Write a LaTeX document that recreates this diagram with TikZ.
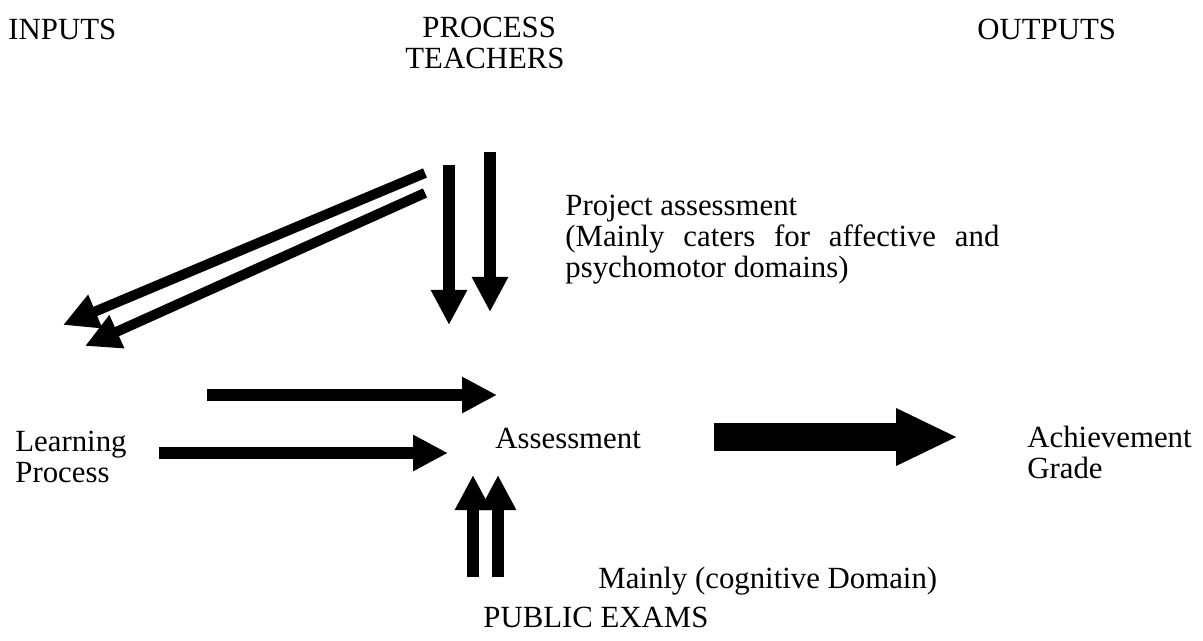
\documentclass[tikz,border=0pt]{standalone}
\usepackage{fontspec}
\setmainfont{Liberation Serif}
\usetikzlibrary{arrows.meta}
\begin{document}
\begin{tikzpicture}[x=0.5pt,y=-0.5pt,
  txt/.style={anchor=base west,inner sep=0pt,font=\fontsize{15.4}{15.5}\selectfont},
  thinarrow/.style={line width=6pt,-{Triangle[length=17.5pt,width=17pt]}},
  diagarrow/.style={line width=5pt,-{Triangle[length=17.5pt,width=17pt]}},
  bigarrow/.style={line width=14pt,-{Triangle[length=31pt,width=26.5pt]}}]
\useasboundingbox (0,0) rectangle (1203,641);
% texts
\node[txt] (inputs) at (8,40) {INPUTS};
\node[txt] (process) at (422,38) {PROCESS};
\node[txt] (teachers) at (405,69) {TEACHERS};
\node[txt] (outputs) at (977,40) {OUTPUTS};
\node[txt] (proj1) at (565,216) {Project assessment};
\node[txt] (proj2) at (565,247) {\makebox[217pt][s]{(Mainly caters for affective and}};
\node[txt] (proj3) at (565,278) {psychomotor domains)};
\node[txt] (learn1) at (15,451) {Learning};
\node[txt] (learn2) at (15,482) {Process};
\node[txt] (assess) at (495,448) {Assessment};
\node[txt] (ach1) at (1027,447) {Achievement};
\node[txt] (ach2) at (1027,478) {Grade};
\node[txt] (cog) at (598,588) {Mainly (cognitive Domain)};
\node[txt] (exams) at (483,627) {PUBLIC EXAMS};
% arrow end points
\coordinate (d1s) at (425,173); \coordinate (d1e) at (63,325);
\coordinate (d2s) at (425,193); \coordinate (d2e) at (85,346);
\coordinate (v1s) at (449,165); \coordinate (v1e) at (449,325);
\coordinate (v2s) at (490,152); \coordinate (v2e) at (490,312);
\coordinate (h1s) at (207,395); \coordinate (h1e) at (497,395);
\coordinate (h2s) at (159,453); \coordinate (h2e) at (448,453);
\coordinate (u1s) at (473,577); \coordinate (u1e) at (473,475);
\coordinate (u2s) at (498,577); \coordinate (u2e) at (498,475);
\coordinate (bs) at (714,437); \coordinate (be) at (958,437);
% arrows
\draw[diagarrow] (d1s) -- (d1e);
\draw[diagarrow] (d2s) -- (d2e);
\draw[thinarrow] (v1s) -- (v1e);
\draw[thinarrow] (v2s) -- (v2e);
\draw[thinarrow] (h1s) -- (h1e);
\draw[thinarrow] (h2s) -- (h2e);
\draw[thinarrow] (u1s) -- (u1e);
\draw[thinarrow] (u2s) -- (u2e);
\draw[bigarrow] (bs) -- (be);
\end{tikzpicture}
\end{document}
